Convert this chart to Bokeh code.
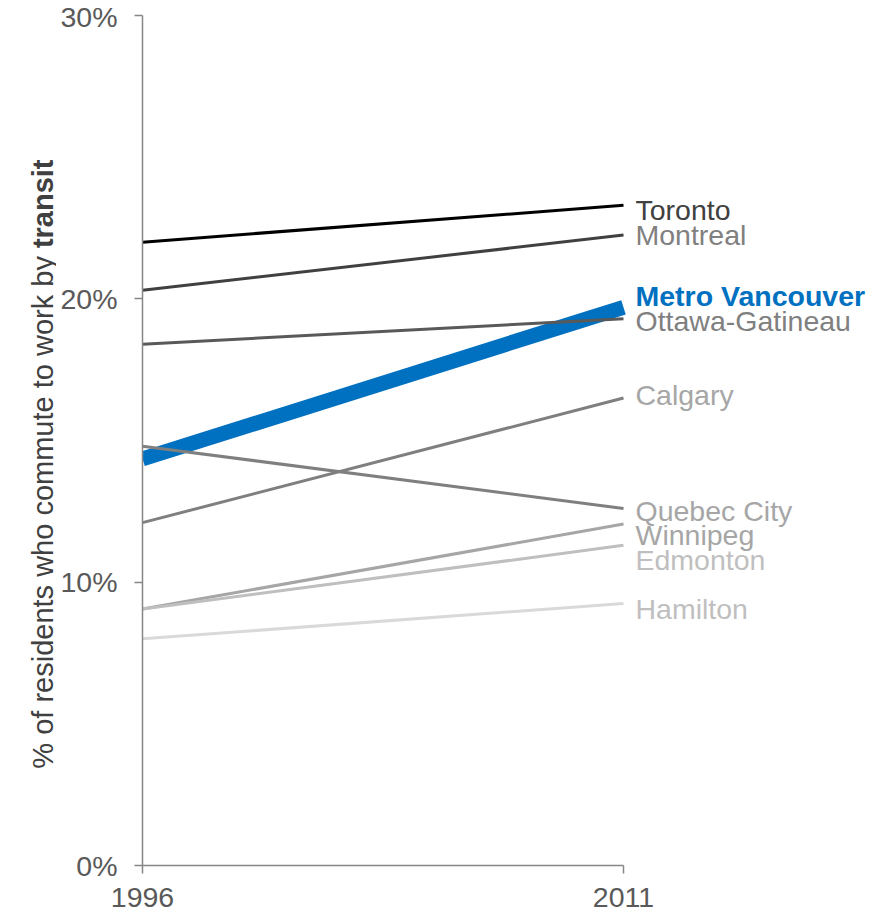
import math
from bokeh.plotting import figure
from bokeh.layouts import row
from bokeh.models import Range1d, FixedTicker, ColumnDataSource
from bokeh.core.properties import value
from bokeh.embed import file_html
from bokeh.resources import INLINE

# ---- data ----
cities = ["Toronto", "Montreal", "Metro Vancouver", "Ottawa-Gatineau", "Calgary",
          "Quebec City", "Winnipeg", "Edmonton", "Hamilton"]
years = [1996, 2011]
share_1996 = [22.0, 20.3, 14.35, 18.4, 12.1, 14.8, 9.05, 9.05, 8.0]
share_2011 = [23.3, 22.25, 19.7, 19.3, 16.5, 12.6, 12.05, 11.3, 9.25]
label_pos = [23.13, 22.25, 20.11, 19.23, 16.62, 12.52, 11.66, 10.79, 9.07]
y_ticks = [0, 10, 20, 30]
y_tick_labels = ["0%", "10%", "20%", "30%"]
axis_title = "% of residents who commute to work by"
axis_title_bold = "transit"
title_junction = 21.79   # y value (%) where the bold word starts

# ---- styles ----
line_colors = ["#000000", "#404040", "#0070C0", "#595959", "#7f7f7f",
               "#7f7f7f", "#a6a6a6", "#bfbfbf", "#d9d9d9"]
line_widths = [3, 3, 15, 3, 3, 3, 3, 3, 3]
label_colors = ["#404040", "#808080", "#0070C0", "#808080", "#a6a6a6",
                "#a6a6a6", "#a6a6a6", "#bfbfbf", "#bfbfbf"]
FONT = "Liberation Sans"
AXIS_COLOR = "#868686"

TOTAL_W, H = 870, 910
TITLE_W = 56
AXIS_X = 142
TOP, BOTTOM = 15, 45
W = TOTAL_W - TITLE_W
LEFT = AXIS_X - TITLE_W
frame_w = W - LEFT
span_px = 481.0
x_end = years[0] + (years[1] - years[0]) * frame_w / span_px
y_range = Range1d(0, 30)
frame_h = H - TOP - BOTTOM
px_per_pct = frame_h / 30.0

p = figure(width=W, height=H, x_range=Range1d(years[0], x_end), y_range=y_range,
           min_border_left=LEFT, min_border_right=0, min_border_top=TOP,
           min_border_bottom=BOTTOM, toolbar_location=None, output_backend="svg")
p.outline_line_color = None
p.grid.visible = False

# lines: Vancouver first (underneath), then others
order = [2] + [i for i in range(len(cities)) if i != 2]
for i in order:
    src = ColumnDataSource(dict(x=years, y=[share_1996[i], share_2011[i]]))
    p.line("x", "y", source=src, line_color=line_colors[i], line_width=line_widths[i],
           line_cap="butt")

# city labels
normal_idx = [i for i in range(len(cities)) if i != 2]
src_lab = ColumnDataSource(dict(
    x=[years[1]] * len(normal_idx),
    y=[label_pos[i] for i in normal_idx],
    text=[cities[i] for i in normal_idx],
    color=[label_colors[i] for i in normal_idx]))
p.text("x", "y", text="text", source=src_lab, text_color="color", x_offset=12,
       text_align="left", text_baseline="middle", text_font=value(FONT),
       text_font_size=value("28.5px"))
src_v = ColumnDataSource(dict(x=[years[1]], y=[label_pos[2]], text=[cities[2]]))
p.text("x", "y", text="text", source=src_v, text_color=label_colors[2], x_offset=12,
       text_align="left", text_baseline="middle", text_font=value(FONT),
       text_font_size=value("28.5px"), text_font_style="bold")

# axes
for ax in (p.xaxis, p.yaxis):
    ax.axis_line_color = AXIS_COLOR
    ax.axis_line_width = 1.5
    ax.major_tick_line_color = AXIS_COLOR
    ax.major_tick_line_width = 1.5
    ax.major_tick_out = 8
    ax.major_tick_in = 0
    ax.minor_tick_line_color = None
    ax.major_label_text_font = FONT
    ax.major_label_text_font_size = "28.5px"
    ax.major_label_text_color = "#595959"

p.xaxis.ticker = FixedTicker(ticks=years)
p.xaxis.bounds = (years[0], years[1])
p.xaxis.major_label_standoff = 14
p.yaxis.ticker = FixedTicker(ticks=y_ticks)
p.yaxis.major_label_overrides = {t: l for t, l in zip(y_ticks, y_tick_labels)}
p.yaxis.bounds = (y_ticks[0], y_ticks[-1])
p.yaxis.major_label_standoff = 17

# ---- rotated y-axis title in a narrow companion figure ----
t = figure(width=TITLE_W, height=H, x_range=Range1d(0, TITLE_W), y_range=y_range,
           min_border_left=0, min_border_right=0, min_border_top=TOP,
           min_border_bottom=BOTTOM, toolbar_location=None, output_backend="svg",
           x_axis_type=None, y_axis_type=None)
t.outline_line_color = None
t.grid.visible = False
baseline_x = 42
gap = 8 / px_per_pct
t.text(x=[baseline_x], y=[title_junction - gap], text=[axis_title], angle=math.pi / 2,
       text_align="right", text_baseline="alphabetic", text_font=value(FONT),
       text_font_size=value("29px"), text_color="#404040")
t.text(x=[baseline_x], y=[title_junction], text=[axis_title_bold], angle=math.pi / 2,
       text_align="left", text_baseline="alphabetic", text_font=value(FONT),
       text_font_size=value("29px"), text_font_style="bold", text_color="#404040")

layout = row(t, p)
open("out.html", "w").write(file_html(layout, INLINE))
